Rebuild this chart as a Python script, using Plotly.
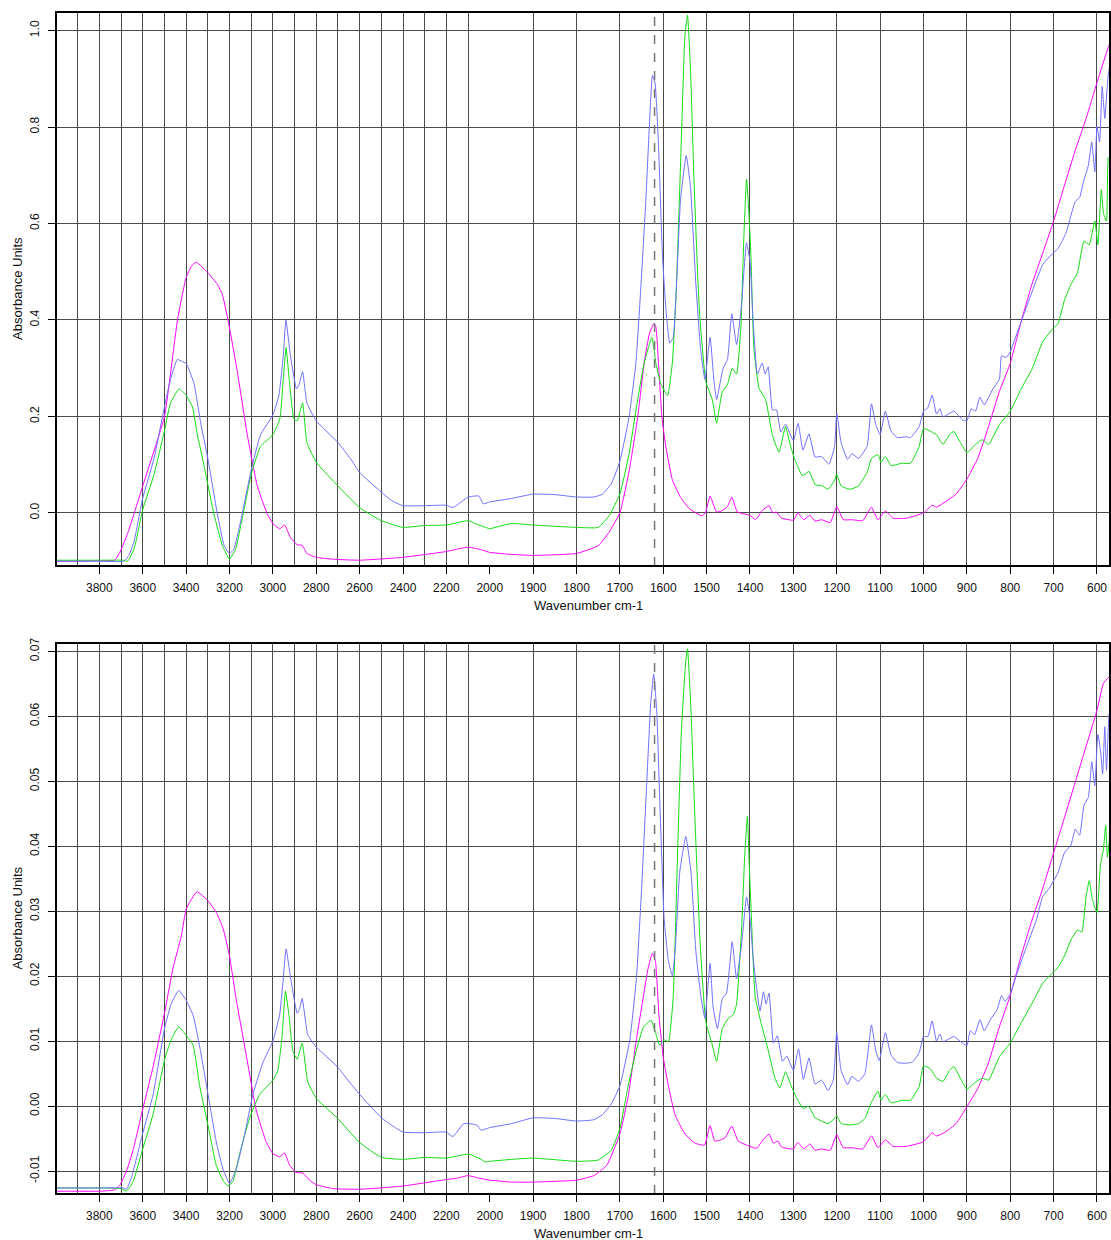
import plotly.graph_objects as go

# ---------------------------------------------------------------------------
# Spectra (wavenumber in cm-1, absorbance units)
# ---------------------------------------------------------------------------

# Upper panel
TOP_MAGENTA_WN = [4000, 3900, 3800, 3730, 3708, 3670, 3600, 3500, 3440, 3400, 3375, 3353, 3300, 3256, 3233, 3200,
                  3164, 3118, 3072, 3026, 3000, 2968, 2946, 2919, 2888, 2865, 2843, 2800, 2720, 2600, 2400, 2200,
                  2150, 2100, 2050, 2000, 1950, 1900, 1800, 1750, 1725, 1700, 1679, 1659, 1644, 1632, 1622, 1617,
                  1611, 1603, 1594, 1579, 1560, 1540, 1510, 1502, 1492, 1477, 1464, 1452, 1442, 1429, 1400, 1387,
                  1372, 1356, 1347, 1339, 1329, 1300, 1290, 1276, 1262, 1250, 1235, 1215, 1200, 1185, 1165, 1140,
                  1120, 1105, 1088, 1070, 1040, 1000, 980, 970, 950, 925, 900, 875, 850, 825, 800, 775, 750, 725,
                  700, 675, 650, 625, 600, 580, 570]
TOP_MAGENTA_A = [-0.100, -0.100, -0.099, -0.098, -0.084, -0.043, 0.056, 0.200, 0.400, 0.488, 0.512, 0.520, 0.498,
                 0.474, 0.453, 0.384, 0.293, 0.162, 0.056, -0.002, -0.022, -0.033, -0.025, -0.051, -0.066, -0.067,
                 -0.084, -0.092, -0.096, -0.098, -0.092, -0.080, -0.075, -0.071, -0.075, -0.082, -0.086, -0.088,
                 -0.084, -0.068, -0.040, 0.000, 0.085, 0.198, 0.311, 0.371, 0.392, 0.386, 0.311, 0.198, 0.137,
                 0.069, 0.032, 0.009, -0.006, 0.002, 0.035, 0.002, 0.005, 0.013, 0.033, 0.002, -0.005, -0.014,
                 0.005, 0.015, 0.000, 0.002, -0.010, -0.015, 0.000, -0.014, -0.005, -0.017, -0.014, -0.020, 0.013,
                 -0.014, -0.014, -0.016, 0.012, -0.014, 0.004, -0.011, -0.011, 0.000, 0.016, 0.012, 0.023, 0.039,
                 0.070, 0.113, 0.179, 0.252, 0.310, 0.396, 0.474, 0.539, 0.605, 0.679, 0.752, 0.818, 0.892, 0.949,
                 0.975]

TOP_BLUE_WN = [4000, 3900, 3800, 3687, 3664, 3640, 3600, 3548, 3500, 3472, 3441, 3418, 3400, 3364, 3333, 3300,
               3256, 3225, 3200, 3180, 3149, 3100, 3057, 3000, 2972, 2952, 2940, 2919, 2891, 2880, 2863, 2843, 2800,
               2700, 2643, 2600, 2500, 2450, 2400, 2300, 2200, 2170, 2100, 2050, 2030, 2000, 1950, 1900, 1850, 1800,
               1760, 1740, 1720, 1700, 1679, 1663, 1652, 1640, 1632, 1625, 1619, 1611, 1602, 1594, 1585, 1577, 1570,
               1560, 1547, 1537, 1525, 1514, 1504, 1492, 1483, 1477, 1462, 1452, 1442, 1431, 1421, 1408, 1400, 1393,
               1383, 1372, 1365, 1358, 1348, 1339, 1329, 1318, 1300, 1289, 1278, 1264, 1250, 1235, 1218, 1205, 1200,
               1190, 1175, 1165, 1150, 1130, 1120, 1110, 1100, 1088, 1075, 1060, 1040, 1030, 1010, 1000, 990, 980,
               970, 962, 955, 930, 910, 900, 890, 880, 870, 860, 840, 825, 820, 810, 800, 780, 760, 740, 725, 710,
               700, 690, 680, 670, 660, 650, 640, 630, 620, 612, 605, 600, 594, 588, 582, 575, 570]
TOP_BLUE_A = [-0.100, -0.100, -0.100, -0.100, -0.088, -0.059, 0.031, 0.113, 0.220, 0.277, 0.318, 0.314, 0.310,
              0.269, 0.187, 0.113, -0.002, -0.067, -0.084, -0.075, -0.018, 0.089, 0.162, 0.203, 0.244, 0.326, 0.400,
              0.326, 0.257, 0.265, 0.293, 0.228, 0.191, 0.146, 0.113, 0.084, 0.043, 0.025, 0.015, 0.015, 0.016,
              0.011, 0.033, 0.035, 0.019, 0.023, 0.030, 0.039, 0.038, 0.033, 0.033, 0.039, 0.060, 0.107, 0.198,
              0.311, 0.462, 0.651, 0.802, 0.907, 0.892, 0.764, 0.537, 0.424, 0.352, 0.364, 0.462, 0.651, 0.741,
              0.674, 0.477, 0.341, 0.277, 0.364, 0.273, 0.235, 0.300, 0.318, 0.413, 0.349, 0.417, 0.560, 0.522,
              0.402, 0.288, 0.311, 0.288, 0.303, 0.213, 0.214, 0.168, 0.184, 0.150, 0.186, 0.130, 0.164, 0.116,
              0.117, 0.101, 0.138, 0.207, 0.146, 0.111, 0.123, 0.113, 0.138, 0.226, 0.183, 0.162, 0.211, 0.170,
              0.156, 0.158, 0.156, 0.179, 0.211, 0.218, 0.244, 0.205, 0.216, 0.199, 0.211, 0.193, 0.191, 0.216,
              0.211, 0.240, 0.224, 0.257, 0.277, 0.326, 0.322, 0.334, 0.384, 0.433, 0.482, 0.515, 0.531, 0.539,
              0.548, 0.564, 0.584, 0.617, 0.646, 0.654, 0.691, 0.720, 0.769, 0.707, 0.802, 0.769, 0.884, 0.818,
              0.900, 0.930]

TOP_GREEN_WN = [4000, 3900, 3800, 3690, 3670, 3640, 3600, 3548, 3500, 3472, 3433, 3400, 3371, 3348, 3317, 3272,
                3233, 3200, 3172, 3133, 3100, 3057, 3000, 2968, 2952, 2939, 2925, 2903, 2888, 2863, 2843, 2800, 2700,
                2600, 2500, 2400, 2300, 2200, 2100, 2050, 2000, 1950, 1900, 1800, 1750, 1725, 1700, 1679, 1659, 1644,
                1626, 1617, 1606, 1590, 1579, 1570, 1560, 1550, 1544, 1537, 1529, 1517, 1502, 1487, 1477, 1464, 1452,
                1441, 1431, 1421, 1414, 1408, 1402, 1398, 1391, 1379, 1364, 1348, 1333, 1318, 1306, 1295, 1279, 1264,
                1249, 1235, 1220, 1205, 1200, 1190, 1170, 1150, 1130, 1120, 1105, 1098, 1088, 1075, 1050, 1030, 1010,
                1000, 985, 970, 955, 940, 930, 915, 900, 880, 865, 850, 825, 800, 775, 750, 725, 700, 690, 675, 660,
                645, 630, 618, 605, 598, 590, 585, 578, 574, 570]
TOP_GREEN_A = [-0.098, -0.098, -0.098, -0.098, -0.100, -0.075, 0.007, 0.080, 0.170, 0.228, 0.257, 0.244, 0.220,
               0.162, 0.097, -0.002, -0.067, -0.096, -0.075, 0.007, 0.080, 0.138, 0.162, 0.195, 0.277, 0.343, 0.277,
               0.195, 0.191, 0.228, 0.146, 0.105, 0.056, 0.011, -0.016, -0.030, -0.026, -0.025, -0.016, -0.025,
               -0.033, -0.022, -0.025, -0.030, -0.030, -0.006, 0.039, 0.122, 0.235, 0.311, 0.364, 0.311, 0.269,
               0.243, 0.311, 0.462, 0.726, 0.990, 1.032, 0.915, 0.688, 0.424, 0.273, 0.235, 0.186, 0.251, 0.266,
               0.300, 0.288, 0.386, 0.575, 0.692, 0.613, 0.537, 0.341, 0.258, 0.235, 0.160, 0.126, 0.179, 0.137,
               0.107, 0.077, 0.086, 0.058, 0.057, 0.049, 0.068, 0.080, 0.056, 0.049, 0.056, 0.084, 0.113, 0.121,
               0.105, 0.117, 0.098, 0.103, 0.103, 0.138, 0.175, 0.170, 0.162, 0.142, 0.162, 0.169, 0.146, 0.125,
               0.142, 0.152, 0.142, 0.183, 0.211, 0.257, 0.298, 0.355, 0.384, 0.392, 0.441, 0.474, 0.498, 0.564,
               0.556, 0.605, 0.556, 0.670, 0.621, 0.605, 0.736, 0.740]

# Lower panel
BOT_MAGENTA_WN = [4000, 3900, 3800, 3730, 3706, 3675, 3644, 3601, 3552, 3498, 3460, 3422, 3399, 3350, 3299, 3261,
                  3230, 3200, 3169, 3123, 3077, 3031, 3000, 2969, 2946, 2923, 2893, 2862, 2831, 2800, 2724, 2600,
                  2400, 2200, 2150, 2100, 2050, 2000, 1950, 1900, 1800, 1760, 1730, 1700, 1681, 1662, 1646, 1635,
                  1625, 1618, 1610, 1600, 1588, 1573, 1550, 1527, 1505, 1492, 1481, 1458, 1442, 1427, 1400, 1385,
                  1369, 1356, 1346, 1336, 1327, 1300, 1290, 1275, 1262, 1250, 1235, 1215, 1200, 1185, 1165, 1140,
                  1120, 1105, 1088, 1070, 1040, 1000, 980, 970, 950, 925, 900, 875, 850, 825, 800, 775, 750, 725,
                  700, 675, 650, 625, 600, 585, 570]
BOT_MAGENTA_A = [-0.0131, -0.0131, -0.0131, -0.0129, -0.0122, -0.0100, -0.0067, -0.0006, 0.0061, 0.0146, 0.0213,
                 0.0262, 0.0304, 0.0330, 0.0316, 0.0298, 0.0274, 0.0231, 0.0164, 0.0079, -0.0006, -0.0055, -0.0073,
                 -0.0078, -0.0072, -0.0091, -0.0102, -0.0103, -0.0114, -0.0121, -0.0127, -0.0128, -0.0123, -0.0113,
                 -0.0111, -0.0107, -0.0111, -0.0114, -0.0117, -0.0117, -0.0114, -0.0107, -0.0091, -0.0043, 0.0014,
                 0.0102, 0.0168, 0.0212, 0.0235, 0.0223, 0.0141, 0.0075, 0.0031, -0.0013, -0.0043, -0.0057, -0.0060,
                 -0.0030, -0.0054, -0.0049, -0.0031, -0.0054, -0.0062, -0.0065, -0.0051, -0.0043, -0.0057, -0.0054,
                 -0.0063, -0.0066, -0.0056, -0.0066, -0.0058, -0.0068, -0.0066, -0.0068, -0.0044, -0.0064, -0.0064,
                 -0.0066, -0.0046, -0.0064, -0.0052, -0.0062, -0.0062, -0.0055, -0.0041, -0.0046, -0.0040, -0.0027,
                 -0.0001, 0.0027, 0.0067, 0.0122, 0.0170, 0.0231, 0.0286, 0.0335, 0.0390, 0.0444, 0.0499, 0.0554,
                 0.0609, 0.0651, 0.0662]

BOT_BLUE_WN = [4000, 3900, 3800, 3690, 3675, 3652, 3601, 3552, 3498, 3468, 3434, 3402, 3368, 3337, 3299, 3261, 3230,
               3200, 3169, 3130, 3092, 3046, 3000, 2969, 2954, 2939, 2920, 2888, 2877, 2865, 2839, 2800, 2704, 2647,
               2600, 2500, 2450, 2400, 2300, 2200, 2170, 2120, 2060, 2040, 2000, 1950, 1900, 1850, 1800, 1760, 1740,
               1720, 1700, 1677, 1662, 1650, 1638, 1629, 1622, 1615, 1608, 1598, 1588, 1579, 1572, 1562, 1548, 1536,
               1525, 1513, 1504, 1492, 1485, 1475, 1464, 1454, 1441, 1431, 1419, 1408, 1400, 1392, 1377, 1369, 1363,
               1356, 1346, 1337, 1325, 1315, 1300, 1288, 1277, 1264, 1250, 1235, 1220, 1208, 1200, 1190, 1175, 1165,
               1150, 1135, 1120, 1110, 1102, 1088, 1075, 1060, 1040, 1025, 1010, 1000, 990, 980, 970, 962, 955, 930,
               910, 900, 892, 882, 870, 860, 845, 830, 820, 812, 800, 780, 760, 740, 725, 710, 700, 690, 675, 660,
               650, 640, 630, 620, 612, 605, 598, 592, 587, 582, 578, 572, 570]
BOT_BLUE_A = [-0.0126, -0.0126, -0.0126, -0.0126, -0.0128, -0.0110, -0.0043, 0.0018, 0.0122, 0.0158, 0.0178,
              0.0164, 0.0140, 0.0091, 0.0018, -0.0055, -0.0097, -0.0119, -0.0097, -0.0043, 0.0018, 0.0067, 0.0100,
              0.0140, 0.0189, 0.0242, 0.0201, 0.0143, 0.0149, 0.0166, 0.0110, 0.0091, 0.0061, 0.0037, 0.0018,
              -0.0018, -0.0030, -0.0040, -0.0041, -0.0040, -0.0047, -0.0027, -0.0029, -0.0037, -0.0033, -0.0027,
              -0.0018, -0.0019, -0.0023, -0.0021, -0.0013, 0.0003, 0.0031, 0.0102, 0.0196, 0.0333, 0.0498, 0.0619,
              0.0665, 0.0608, 0.0470, 0.0289, 0.0223, 0.0201, 0.0245, 0.0360, 0.0415, 0.0360, 0.0240, 0.0168,
              0.0135, 0.0220, 0.0152, 0.0119, 0.0165, 0.0174, 0.0253, 0.0196, 0.0251, 0.0322, 0.0289, 0.0223,
              0.0146, 0.0176, 0.0157, 0.0174, 0.0097, 0.0108, 0.0069, 0.0077, 0.0055, 0.0088, 0.0041, 0.0074,
              0.0034, 0.0040, 0.0024, 0.0040, 0.0113, 0.0055, 0.0033, 0.0046, 0.0038, 0.0050, 0.0125, 0.0085,
              0.0070, 0.0113, 0.0079, 0.0067, 0.0066, 0.0068, 0.0082, 0.0107, 0.0107, 0.0131, 0.0100, 0.0111,
              0.0099, 0.0107, 0.0097, 0.0093, 0.0116, 0.0110, 0.0133, 0.0116, 0.0134, 0.0149, 0.0170, 0.0161,
              0.0173, 0.0213, 0.0250, 0.0286, 0.0323, 0.0335, 0.0347, 0.0359, 0.0390, 0.0402, 0.0426, 0.0417,
              0.0463, 0.0475, 0.0530, 0.0493, 0.0572, 0.0548, 0.0511, 0.0584, 0.0517, 0.0603, 0.0600]

BOT_GREEN_WN = [4000, 3900, 3800, 3700, 3675, 3644, 3601, 3552, 3498, 3468, 3434, 3402, 3368, 3337, 3299, 3261,
                3227, 3207, 3184, 3153, 3107, 3061, 3000, 2977, 2957, 2942, 2926, 2908, 2888, 2865, 2839, 2800, 2704,
                2600, 2500, 2400, 2300, 2200, 2100, 2050, 2020, 2000, 1950, 1900, 1800, 1750, 1720, 1700, 1681, 1662,
                1646, 1628, 1618, 1608, 1598, 1588, 1577, 1567, 1558, 1548, 1544, 1536, 1527, 1515, 1502, 1488, 1477,
                1464, 1450, 1438, 1431, 1419, 1412, 1406, 1402, 1396, 1388, 1373, 1358, 1342, 1331, 1318, 1305, 1292,
                1277, 1265, 1250, 1235, 1220, 1208, 1200, 1190, 1170, 1150, 1135, 1120, 1105, 1098, 1088, 1075, 1050,
                1030, 1010, 1000, 985, 970, 955, 940, 930, 915, 900, 880, 865, 850, 825, 800, 775, 750, 725, 700, 690,
                675, 660, 645, 635, 625, 618, 610, 600, 592, 585, 580, 576, 570]
BOT_GREEN_A = [-0.0126, -0.0126, -0.0126, -0.0127, -0.0131, -0.0116, -0.0067, -0.0012, 0.0073, 0.0103, 0.0122,
               0.0110, 0.0094, 0.0030, -0.0030, -0.0091, -0.0116, -0.0123, -0.0116, -0.0073, -0.0018, 0.0018, 0.0040,
               0.0055, 0.0110, 0.0177, 0.0140, 0.0085, 0.0072, 0.0097, 0.0037, 0.0012, -0.0018, -0.0056, -0.0079,
               -0.0082, -0.0079, -0.0080, -0.0074, -0.0080, -0.0086, -0.0085, -0.0082, -0.0080, -0.0085, -0.0083,
               -0.0068, -0.0035, 0.0031, 0.0086, 0.0121, 0.0132, 0.0113, 0.0094, 0.0102, 0.0099, 0.0168, 0.0388,
               0.0580, 0.0685, 0.0704, 0.0608, 0.0443, 0.0251, 0.0130, 0.0097, 0.0069, 0.0119, 0.0135, 0.0141,
               0.0157, 0.0278, 0.0388, 0.0446, 0.0377, 0.0278, 0.0168, 0.0124, 0.0086, 0.0042, 0.0028, 0.0053,
               0.0031, 0.0012, -0.0004, 0.0000, -0.0018, -0.0023, -0.0027, -0.0021, -0.0015, -0.0027, -0.0029,
               -0.0027, -0.0019, 0.0006, 0.0023, 0.0009, 0.0018, 0.0005, 0.0009, 0.0009, 0.0030, 0.0062, 0.0058,
               0.0043, 0.0038, 0.0055, 0.0061, 0.0043, 0.0026, 0.0037, 0.0043, 0.0040, 0.0076, 0.0097, 0.0128,
               0.0158, 0.0189, 0.0207, 0.0213, 0.0231, 0.0256, 0.0271, 0.0268, 0.0323, 0.0347, 0.0316, 0.0298,
               0.0371, 0.0396, 0.0432, 0.0383, 0.0420]

# Axis settings
WN_START, WN_BREAK, WN_END = 4000, 2000, 570      # the region below WN_BREAK is drawn at twice the scale
REF_LINE_WN = 1620                                 # dashed marker line
TOP_Y_RANGE = [-0.110, 1.0385]
BOT_Y_RANGE = [-0.01353, 0.07128]
TOP_Y_TICKS = [0.0, 0.2, 0.4, 0.6, 0.8, 1.0]
TOP_Y_LABELS = ["0.0", "0.2", "0.4", "0.6", "0.8", "1.0"]
BOT_Y_TICKS = [-0.01, 0.0, 0.01, 0.02, 0.03, 0.04, 0.05, 0.06, 0.07]
BOT_Y_LABELS = ["-0.01", "0.00", "0.01", "0.02", "0.03", "0.04", "0.05", "0.06", "0.07"]
HI_MAJOR = list(range(3800, 2100, -200))           # labelled ticks above the break
HI_MINOR = list(range(3900, 2000, -200))           # extra grid lines above the break
LO_MAJOR = list(range(2000, 599, -100))            # labelled ticks below the break

COLORS = {"magenta": "#ff00ff", "green": "#11dd11", "blue": "#6f6fff"}

W, H = 1111, 1240
ML, MR, MT, MB = 56, 1, 12, 46
plot_w = W - ML - MR
plot_h = H - MT - MB
hi_span = WN_START - WN_BREAK
lo_span = 2 * (WN_BREAK - WN_END)
SPLIT = hi_span / (hi_span + lo_span)
TOP_DOM = [(1194 - 566) / plot_h, 1.0]
BOT_DOM = [0.0, (1194 - 643) / plot_h]

FONT = "Liberation Sans, Arial, Helvetica, sans-serif"
GRID = "#4a4a4a"
TICKLEN = 7
TICK_STANDOFF = 4


def split_series(wn, a):
    hi = [(w, v) for w, v in zip(wn, a) if w >= WN_BREAK]
    lo = [(w, v) for w, v in zip(wn, a) if w <= WN_BREAK]
    return hi, lo


fig = go.Figure()

panels = [
    (("x", "y"), ("x2", "y"), [(TOP_MAGENTA_WN, TOP_MAGENTA_A, "magenta"),
                               (TOP_GREEN_WN, TOP_GREEN_A, "green"),
                               (TOP_BLUE_WN, TOP_BLUE_A, "blue")]),
    (("x3", "y2"), ("x4", "y2"), [(BOT_MAGENTA_WN, BOT_MAGENTA_A, "magenta"),
                                  (BOT_GREEN_WN, BOT_GREEN_A, "green"),
                                  (BOT_BLUE_WN, BOT_BLUE_A, "blue")]),
]

for (hx, hy), (lx, ly), series in panels:
    for wn, a, name in series:
        hi, lo = split_series(wn, a)
        for pts, xa, ya in ((hi, hx, hy), (lo, lx, ly)):
            fig.add_trace(go.Scatter(
                x=[p[0] for p in pts], y=[p[1] for p in pts],
                xaxis=xa, yaxis=ya, mode="lines",
                line=dict(color=COLORS[name], width=1, shape="spline", smoothing=0.4),
                showlegend=False, hoverinfo="skip",
            ))

tick_font = dict(family=FONT, size=12, color="#111111")


def hi_axis(anchor):
    return dict(domain=[0, SPLIT], range=[WN_START, WN_BREAK], anchor=anchor,
                tickmode="array", tickvals=HI_MAJOR, ticktext=[str(v) for v in HI_MAJOR],
                showgrid=True, gridcolor=GRID, gridwidth=1,
                minor=dict(tickmode="array", tickvals=HI_MINOR, showgrid=True, gridcolor=GRID,
                           gridwidth=1, ticks=""),
                ticks="outside", ticklen=TICKLEN, tickcolor="#000", tickfont=tick_font,
                ticklabelstandoff=TICK_STANDOFF,
                zeroline=False, showline=False, fixedrange=True)


def lo_axis(anchor):
    return dict(domain=[SPLIT, 1], range=[WN_BREAK, WN_END], anchor=anchor,
                tickmode="array", tickvals=LO_MAJOR, ticktext=[str(v) for v in LO_MAJOR],
                showgrid=True, gridcolor=GRID, gridwidth=1,
                ticks="outside", ticklen=TICKLEN, tickcolor="#000", tickfont=tick_font,
                ticklabelstandoff=TICK_STANDOFF,
                zeroline=False, showline=False, fixedrange=True)


def y_axis(anchor, dom, rng, tv, tt):
    return dict(domain=dom, range=rng, anchor=anchor, tickmode="array", tickvals=tv, ticktext=tt,
                tickangle=-90, showgrid=True, gridcolor=GRID, gridwidth=1,
                ticks="outside", ticklen=TICKLEN, tickcolor="#000", tickfont=tick_font,
                ticklabelstandoff=TICK_STANDOFF,
                zeroline=False, showline=False, fixedrange=True)


fig.update_layout(
    width=W, height=H,
    margin=dict(l=ML, r=MR, t=MT, b=MB, pad=0),
    paper_bgcolor="white", plot_bgcolor="white",
    font=dict(family=FONT, size=12, color="#111111"),
    xaxis=hi_axis("y"), xaxis2=lo_axis("y"),
    xaxis3=hi_axis("y2"), xaxis4=lo_axis("y2"),
    yaxis=y_axis("x", TOP_DOM, TOP_Y_RANGE, TOP_Y_TICKS, TOP_Y_LABELS),
    yaxis2=y_axis("x3", BOT_DOM, BOT_Y_RANGE, BOT_Y_TICKS, BOT_Y_LABELS),
)

shapes = []
for dom, xref, yref in ((TOP_DOM, "x2", "y domain"), (BOT_DOM, "x4", "y2 domain")):
    shapes.append(dict(type="line", xref=xref, yref=yref, x0=REF_LINE_WN, x1=REF_LINE_WN, y0=0, y1=1,
                       line=dict(color="#777777", width=1.5, dash="dash")))
    shapes.append(dict(type="rect", xref="paper", yref="paper", x0=0, x1=1, y0=dom[0], y1=dom[1],
                       line=dict(color="#000000", width=2), fillcolor="rgba(0,0,0,0)"))
fig.update_layout(shapes=shapes)

title_font = dict(family=FONT, size=13, color="#111111")
x_title = (588 - ML) / plot_w
annotations = []
for dom, ty in ((TOP_DOM, (1194 - 605) / plot_h), (BOT_DOM, (1194 - 1233) / plot_h)):
    annotations.append(dict(text="Wavenumber cm-1", xref="paper", yref="paper", x=x_title, y=ty,
                            xanchor="center", yanchor="middle", showarrow=False, font=title_font))
    annotations.append(dict(text="Absorbance Units", xref="paper", yref="paper", x=(17 - ML) / plot_w,
                            y=(dom[0] + dom[1]) / 2, xanchor="center", yanchor="middle", textangle=-90,
                            showarrow=False, font=title_font))
fig.update_layout(annotations=annotations)

fig.write_html("out.html")
